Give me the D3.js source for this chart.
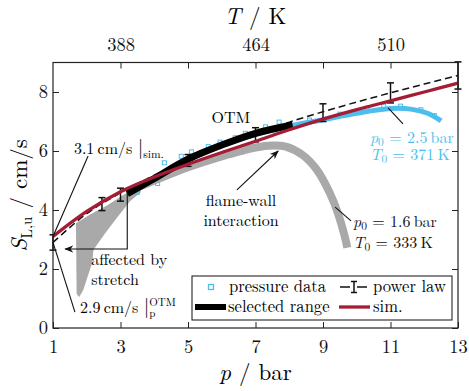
<!DOCTYPE html>
<html>
<head>
<meta charset="utf-8">
<script src="https://cdn.jsdelivr.net/npm/d3@7"></script>
</head>
<body style="margin:0;background:#fff">
<script>
// ---- data ----
const pTicks = [1, 3, 5, 7, 9, 11, 13];
const sTicks = [0, 2, 4, 6, 8];
const tTickP = [3, 5, 7, 9, 11];
const tTickLabels = ["388", "", "464", "", "510"];

// simulation
const simP = [1, 2, 3, 4, 5, 6, 7, 8, 9, 10, 11, 12, 13];
const simS = [3.1, 3.95, 4.62, 5.12, 5.55, 5.95, 6.33, 6.72, 7.08, 7.4, 7.7, 8.0, 8.3];

// power law fit (dashed) + error bars
const powP = [1, 2, 3, 4, 5, 6, 7, 8, 9, 10, 11, 12, 13];
const powS = [2.9, 3.88, 4.58, 5.18, 5.72, 6.19, 6.6, 6.98, 7.33, 7.66, 7.97, 8.27, 8.56];
const errP = [1, 2.45, 3, 5, 7, 9, 11, 13];
const errS = [2.9, 4.2, 4.52, 5.68, 6.55, 7.3, 7.97, 8.56];
const errD = [0.26, 0.22, 0.22, 0.2, 0.24, 0.3, 0.34, 0.46];

// selected OTM range
const selP = [3.2, 4, 5, 6, 7, 8.1];
const selS = [4.55, 5.07, 5.72, 6.2, 6.6, 6.88];

// pressure data, p0 = 2.5 bar (blue)
const blueP = [3.3, 4, 5, 6, 7, 8, 9, 10, 11, 11.6, 12.1, 12.5];
const blueS = [4.62, 5.06, 5.74, 6.2, 6.56, 6.84, 7.06, 7.28, 7.44, 7.42, 7.28, 7.02];
const blueDotP = [3.5, 4.1, 4.3, 4.8, 5.1, 5.6, 5.95, 6.4, 6.7, 7.3, 7.7, 8.6, 9.5, 10.3, 10.8, 11.3, 11.9, 12.3];
const blueDotS = [4.6, 4.9, 5.6, 5.82, 5.97, 6.15, 6.3, 6.45, 6.6, 6.82, 6.98, 7.05, 7.25, 7.45, 7.52, 7.52, 7.4, 7.2];

// pressure data, p0 = 1.6 bar (grey): stretch-affected fan + main band
const fanP = [1.7, 1.68, 2.1, 2.6, 3.07, 3.6, 3.6, 3.28, 2.9, 2.54, 2.2, 2.16, 2.0, 1.9, 1.78];
const fanS = [1.15, 3.55, 3.85, 4.15, 4.5, 4.85, 4.6, 4.3, 3.75, 3.2, 2.65, 2.2, 1.65, 1.3, 1.05];
const grayP = [3.4, 4, 5, 6, 7, 7.5, 7.9, 8.4, 8.82, 9.2, 9.44, 9.65, 9.72];
const grayS = [4.72, 5.0, 5.45, 5.82, 6.12, 6.19, 6.15, 5.86, 5.36, 4.58, 3.9, 3.08, 2.72];

const blue = "#4DBEEE", gray = "#a9a9a9", red = "#a51d35";
const FONT = '"Latin Modern Roman", "Liberation Serif", serif';

const W = 469, H = 391;
const svg = d3.select("body").append("svg").attr("width", W).attr("height", H)
    .style("font-family", FONT);

const x = d3.scaleLinear().domain([1, 13]).range([53, 458]);
const y = d3.scaleLinear().domain([0, 9]).range([328, 62.5]);

const pts = (ps, ss) => ps.map((p, i) => [p, ss[i]]);
const line = d3.line().x(d => x(d[0])).y(d => y(d[1]));
const smooth = d3.line().x(d => x(d[0])).y(d => y(d[1])).curve(d3.curveCatmullRom);

const defs = svg.append("defs");
defs.append("marker").attr("id", "arr")
    .attr("viewBox", "0 0 10 10").attr("refX", 9).attr("refY", 5)
    .attr("markerWidth", 9).attr("markerHeight", 9)
    .attr("markerUnits", "userSpaceOnUse").attr("orient", "auto")
  .append("path").attr("d", "M0,1 L10,5 L0,9 L3,5 Z").attr("fill", "#111");

// grey data
svg.append("path").attr("d", line(pts(fanP, fanS)) + "Z").attr("fill", gray);
svg.append("path").attr("d", smooth(pts(grayP, grayS)))
    .attr("fill", "none").attr("stroke", gray).attr("stroke-width", 8);

// blue data
svg.append("path").attr("d", smooth(pts(blueP, blueS)))
    .attr("fill", "none").attr("stroke", blue).attr("stroke-width", 5);
svg.selectAll(".bdot").data(pts(blueDotP, blueDotS)).join("rect")
    .attr("class", "bdot")
    .attr("x", d => x(d[0]) - 2).attr("y", d => y(d[1]) - 2)
    .attr("width", 4).attr("height", 4)
    .attr("fill", "none").attr("stroke", blue).attr("stroke-width", 1);

// power law
svg.append("path").attr("d", smooth(pts(powP, powS)))
    .attr("fill", "none").attr("stroke", "#111").attr("stroke-width", 1.5)
    .attr("stroke-dasharray", "7,4");
const eb = svg.selectAll(".eb").data(errP.map((p, i) => ({p: p, s: errS[i], d: errD[i]})))
    .join("g").attr("class", "eb").attr("stroke", "#111").attr("stroke-width", 1.5);
eb.append("line").attr("x1", d => x(d.p)).attr("x2", d => x(d.p))
    .attr("y1", d => y(d.s - d.d)).attr("y2", d => y(d.s + d.d));
eb.append("line").attr("x1", d => x(d.p) - 3.5).attr("x2", d => x(d.p) + 3.5)
    .attr("y1", d => y(d.s - d.d)).attr("y2", d => y(d.s - d.d));
eb.append("line").attr("x1", d => x(d.p) - 3.5).attr("x2", d => x(d.p) + 3.5)
    .attr("y1", d => y(d.s + d.d)).attr("y2", d => y(d.s + d.d));

// selected range
svg.append("path").attr("d", smooth(pts(selP, selS)))
    .attr("fill", "none").attr("stroke", "#000").attr("stroke-width", 7);

// simulation
svg.append("path").attr("d", smooth(pts(simP, simS)))
    .attr("fill", "none").attr("stroke", red).attr("stroke-width", 3.3);

// axes
function styleAxis(g) {
  g.select(".domain").remove();
  g.attr("font-family", null).attr("font-size", null)
   .style("font-family", FONT).style("font-size", "18.5px");
  g.selectAll(".tick text").attr("fill", "#111");
  g.selectAll(".tick line").attr("stroke", "#222").attr("stroke-width", 1);
}
svg.append("g").attr("transform", `translate(0,${y(0)})`)
  .call(d3.axisBottom(x).tickValues(pTicks).tickSize(-6).tickSizeOuter(0).tickPadding(12))
  .call(styleAxis);
svg.append("g").attr("transform", `translate(${x(1)},0)`)
  .call(d3.axisLeft(y).tickValues(sTicks).tickSize(-6).tickSizeOuter(0).tickPadding(5))
  .call(styleAxis);
svg.append("g").attr("transform", `translate(0,${y(9)})`)
  .call(d3.axisTop(x).tickValues(tTickP).tickSize(-6).tickSizeOuter(0).tickPadding(12)
        .tickFormat((d, i) => tTickLabels[i]))
  .call(styleAxis);
svg.append("g").attr("transform", `translate(${x(13)},0)`)
  .call(d3.axisRight(y).tickValues(sTicks).tickSize(-6).tickSizeOuter(0).tickFormat(""))
  .call(styleAxis);
svg.append("rect").attr("x", x(1)).attr("y", y(9))
    .attr("width", x(13) - x(1)).attr("height", y(0) - y(9))
    .attr("fill", "none").attr("stroke", "#222").attr("stroke-width", 1.2);

// axis titles
const xl = svg.append("text").attr("x", (x(1) + x(13)) / 2).attr("y", 380)
    .attr("text-anchor", "middle").attr("font-size", 23);
xl.append("tspan").attr("font-style", "italic").text("p");
xl.append("tspan").attr("dx", 8).text("/");
xl.append("tspan").attr("dx", 8).text("bar");

const tl = svg.append("text").attr("x", (x(1) + x(13)) / 2).attr("y", 24)
    .attr("text-anchor", "middle").attr("font-size", 23);
tl.append("tspan").attr("font-style", "italic").text("T");
tl.append("tspan").attr("dx", 8).text("/");
tl.append("tspan").attr("dx", 8).text("K");

const yl = svg.append("text").attr("transform", `translate(27,${(y(0) + y(9)) / 2}) rotate(-90)`)
    .attr("text-anchor", "middle").attr("font-size", 23);
yl.append("tspan").attr("font-style", "italic").text("S");
yl.append("tspan").attr("font-size", 15).attr("dy", 5).text("L,u");
yl.append("tspan").attr("dy", -5).attr("dx", 8).text("/");
yl.append("tspan").attr("dx", 8).text("cm/s");

// annotations
const ann = svg.append("g").attr("stroke", "#111").attr("stroke-width", 1.1).attr("fill", "none");
ann.append("line").attr("x1", x(1)).attr("y1", y(3.1)).attr("x2", x(2.04)).attr("y2", y(5.83));
ann.append("line").attr("x1", x(1)).attr("y1", y(2.9)).attr("x2", x(1.65)).attr("y2", y(0.54));
ann.append("path").attr("d", line([[3.2, 4.67], [3.2, 2.68], [1.36, 2.68]]))
    .attr("marker-end", "url(#arr)");
ann.append("line").attr("x1", x(6.45)).attr("y1", y(4.68)).attr("x2", x(7.67)).attr("y2", y(6.0))
    .attr("marker-end", "url(#arr)");
ann.append("line").attr("x1", x(10.93)).attr("y1", y(7.46)).attr("x2", x(11.37)).attr("y2", y(6.92));
ann.append("line").attr("x1", x(9.36)).attr("y1", y(4.1)).attr("x2", x(9.83)).attr("y2", y(3.63));

const AF = 16;
const t1 = svg.append("text").attr("x", x(1.62)).attr("y", y(5.9)).attr("font-size", AF);
t1.append("tspan").text("3.1\u2009cm/s ");
t1.append("tspan").attr("font-size", 20).text("|");
t1.append("tspan").attr("font-size", 11.5).attr("dy", 4).text("sim.");

const t2 = svg.append("text").attr("x", x(1.8)).attr("y", y(0.51)).attr("font-size", AF);
t2.append("tspan").text("2.9\u2009cm/s ");
t2.append("tspan").attr("font-size", 20).text("|");
const sup = t2.append("tspan").attr("font-size", 11).attr("dy", -7).text("OTM");
const supW = sup.node().getComputedTextLength();
t2.append("tspan").attr("font-size", 11).attr("dx", -supW).attr("dy", 11).text("p");

svg.append("text").attr("x", x(2.13)).attr("y", y(2.14)).attr("font-size", AF).text("affected by");
svg.append("text").attr("x", x(2.13)).attr("y", y(1.46)).attr("font-size", AF).text("stretch");
svg.append("text").attr("x", x(6.27)).attr("y", y(6.95)).attr("font-size", AF)
    .attr("text-anchor", "middle").text("OTM");
svg.append("text").attr("x", x(6.57)).attr("y", y(4.14)).attr("font-size", AF)
    .attr("text-anchor", "middle").text("flame-wall");
svg.append("text").attr("x", x(6.57)).attr("y", y(3.46)).attr("font-size", AF)
    .attr("text-anchor", "middle").text("interaction");

function condLabel(px, ps, sym, rest, color) {
  const t = svg.append("text").attr("x", x(px)).attr("y", y(ps)).attr("font-size", AF)
      .style("fill", color);
  t.append("tspan").attr("font-style", "italic").text(sym);
  t.append("tspan").attr("font-size", 11.5).attr("dy", 3).text("0");
  t.append("tspan").attr("dy", -3).text(" = " + rest);
}
condLabel(10.39, 6.27, "p", "2.5\u2009bar", blue);
condLabel(10.39, 5.69, "T", "371\u2009K", blue);
condLabel(9.89, 3.42, "p", "1.6\u2009bar", "#111");
condLabel(9.89, 2.72, "T", "333\u2009K", "#111");

// legend
const lg = svg.append("g");
lg.append("rect").attr("x", 192).attr("y", 276).attr("width", 260).attr("height", 44)
    .attr("fill", "#fff").attr("stroke", "#111").attr("stroke-width", 1);
lg.append("rect").attr("x", 208.5).attr("y", 284.5).attr("width", 5).attr("height", 5)
    .attr("fill", "none").attr("stroke", blue).attr("stroke-width", 1.3);
lg.append("line").attr("x1", 340).attr("x2", 367).attr("y1", 287).attr("y2", 287)
    .attr("stroke", "#111").attr("stroke-width", 1.5).attr("stroke-dasharray", "10,7");
lg.append("line").attr("x1", 354).attr("x2", 354).attr("y1", 281.5).attr("y2", 292.5)
    .attr("stroke", "#111").attr("stroke-width", 1.5);
lg.append("line").attr("x1", 351).attr("x2", 357).attr("y1", 281.5).attr("y2", 281.5)
    .attr("stroke", "#111").attr("stroke-width", 1.5);
lg.append("line").attr("x1", 351).attr("x2", 357).attr("y1", 292.5).attr("y2", 292.5)
    .attr("stroke", "#111").attr("stroke-width", 1.5);
lg.append("line").attr("x1", 195).attr("x2", 226).attr("y1", 307).attr("y2", 307)
    .attr("stroke", "#000").attr("stroke-width", 6);
lg.append("line").attr("x1", 339).attr("x2", 370).attr("y1", 307).attr("y2", 307)
    .attr("stroke", red).attr("stroke-width", 3.3);
lg.append("text").attr("x", 229).attr("y", 292).attr("font-size", 16.6).text("pressure data");
lg.append("text").attr("x", 373).attr("y", 292).attr("font-size", 16.6).text("power law");
lg.append("text").attr("x", 228).attr("y", 312).attr("font-size", 16.6).text("selected range");
lg.append("text").attr("x", 373).attr("y", 312).attr("font-size", 16.6).text("sim.");
</script>
</body>
</html>
